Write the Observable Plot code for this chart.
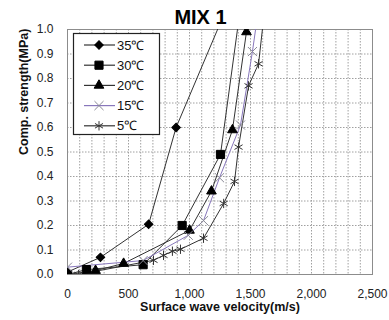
<!DOCTYPE html>
<html><head><meta charset="utf-8">
<script src="https://cdn.jsdelivr.net/npm/d3@7"></script>
<script src="https://cdn.jsdelivr.net/npm/@observablehq/plot@0.6"></script>
<style>
body{margin:0;background:#fff;font-family:"Liberation Sans",Arial,sans-serif;}
#title{height:20px;padding-top:6px;line-height:22px;font-weight:bold;font-size:20px;text-align:center;width:389px;box-sizing:content-box;}
#title span{position:relative;left:6px;}
</style></head><body>
<div id="title"><span>MIX 1</span></div>
<div id="chart"></div>
<script>
// Surface wave velocity (m/s) and compressive strength (MPa) per curing temperature
const names = ["35℃", "30℃", "20℃", "15℃", "5℃"];
const v35 = [0, 270, 665, 890, 1400];
const s35 = [0.01, 0.07, 0.205, 0.6, 1.2];
const v30 = [0, 155, 620, 940, 1254, 1434];
const s30 = [0, 0.02, 0.04, 0.2, 0.49, 1.15];
const v20 = [0, 230, 460, 1000, 1180, 1352, 1467];
const s20 = [0, 0.016, 0.045, 0.18, 0.34, 0.59, 0.99];
const v15 = [0, 620, 990, 1115, 1246, 1418, 1516, 1570];
const s15 = [0.03, 0.057, 0.16, 0.22, 0.395, 0.61, 0.91, 1.1];
const v5 = [90, 705, 787, 860, 926, 1115, 1280, 1369, 1402, 1484, 1566, 1620];
const s5 = [0, 0.058, 0.078, 0.095, 0.103, 0.148, 0.29, 0.38, 0.52, 0.77, 0.86, 1.1];
const xTicks = [0, 500, 1000, 1500, 2000, 2500];
const yTicks = [0, 0.1, 0.2, 0.3, 0.4, 0.5, 0.6, 0.7, 0.8, 0.9, 1.0];

const styles = [
  {symbol: "square", rotate: 45, r: 3.4, fill: "#000", stroke: "#000", line: "#333"},
  {symbol: "square", rotate: 0, r: 4.6, fill: "#000", stroke: "#000", line: "#333"},
  {symbol: "triangle", rotate: 0, r: 3.6, fill: "#000", stroke: "#000", line: "#333"},
  {symbol: "times", rotate: 0, r: 4.2, fill: "none", stroke: "#8a8a96", line: "#8877bb"},
  {symbol: "asterisk", rotate: 0, r: 4.4, fill: "none", stroke: "#333", line: "#333"}
];
const vs = [v35, v30, v20, v15, v5];
const ss = [s35, s30, s20, s15, s5];
const rows = names.map((n, k) => vs[k].map((v, i) => ({key: n, v, s: ss[k][i]})));

const xGrid = d3.range(100, 2500, 100);
const yGrid = d3.range(1, 10).map(d => d / 10);
const font = "'Liberation Sans', Arial, sans-serif";

const marks = [
  Plot.ruleX(xGrid, {stroke: "#a0a0a0", strokeDasharray: "1.5,1.5", strokeWidth: 1}),
  Plot.ruleY(yGrid, {stroke: "#a0a0a0", strokeDasharray: "1.5,1.5", strokeWidth: 1}),
  Plot.frame({stroke: "#8c8c8c", strokeWidth: 1}),
  Plot.axisX({ticks: xTicks, tickFormat: d3.format(","), tickSize: 0, tickPadding: 15, label: null, fontSize: 12}),
  Plot.axisY({ticks: yTicks, tickFormat: d3.format(".1f"), tickSize: 0, tickPadding: 14, label: null, fontSize: 12}),
  Plot.text(["Surface wave velocity(m/s)"], {frameAnchor: "bottom", dy: 36, fontWeight: "bold", fontSize: 12.5, fill: "#111"}),
  Plot.text(["Comp. strength(MPa)"], {frameAnchor: "left", dx: -44, dy: 3, rotate: -90, fontWeight: "bold", fontSize: 12.5, fill: "#111"})
];
rows.forEach((r, k) => {
  const st = styles[k];
  marks.push(Plot.line(r, {x: "v", y: "s", stroke: st.line, strokeWidth: 1, clip: true}));
});
rows.forEach((r, k) => {
  const st = styles[k];
  marks.push(Plot.dot(r, {x: "v", y: "s", symbol: st.symbol, r: st.r, rotate: st.rotate, fill: st.fill, stroke: st.stroke, strokeWidth: 1, clip: true}));
});

const chart = Plot.plot({
  width: 389, height: 294,
  marginTop: 3, marginBottom: 46, marginLeft: 67, marginRight: 17,
  x: {domain: [0, 2500]},
  y: {domain: [0, 1]},
  style: {fontFamily: font, fontSize: "12px", color: "#222", background: "white", overflow: "visible"},
  marks
});
document.getElementById("chart").appendChild(chart);

// legend
const svg = d3.select(chart);
const lg = svg.append("g").attr("font-family", font).attr("font-size", 13).attr("text-anchor", "start");
lg.append("rect").attr("x", 73.5).attr("y", 7.5).attr("width", 86).attr("height", 101)
  .attr("fill", "#fff").attr("stroke", "#222").attr("stroke-width", 1.2);
const symMap = {square: d3.symbolSquare, triangle: d3.symbolTriangle, times: d3.symbolTimes, asterisk: d3.symbolAsterisk};
names.forEach((n, k) => {
  const st = styles[k];
  const y = 19 + k * 20.2;
  lg.append("line").attr("x1", 84).attr("x2", 115).attr("y1", y).attr("y2", y)
    .attr("stroke", st.line).attr("stroke-width", 1.2);
  lg.append("path").attr("d", d3.symbol(symMap[st.symbol], st.r * st.r * Math.PI)())
    .attr("transform", `translate(99,${y}) rotate(${st.rotate})`)
    .attr("fill", st.fill).attr("stroke", st.stroke).attr("stroke-width", 1);
  lg.append("text").attr("x", 117).attr("y", y).attr("dy", "0.36em").attr("fill", "#111").text(n);
});
</script>
</body></html>
